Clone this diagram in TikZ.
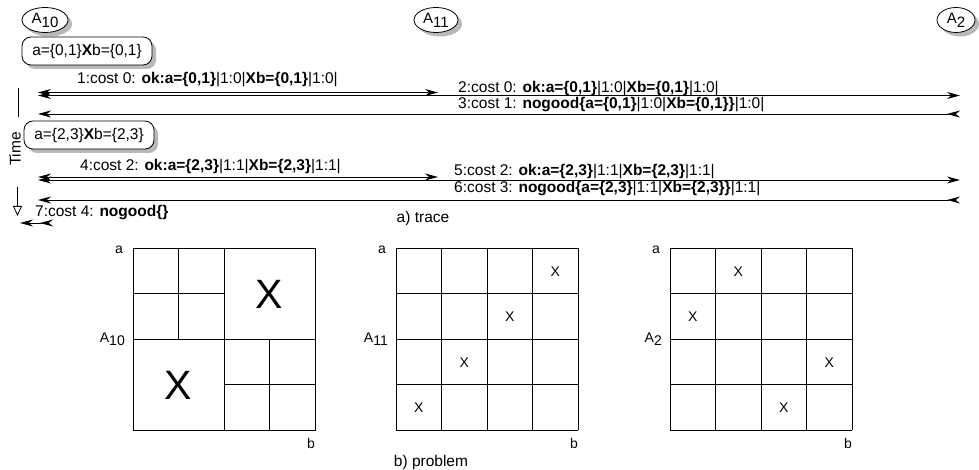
\documentclass[tikz,border=0pt]{standalone}
\usepackage{fontspec}
\setmainfont{Liberation Sans}
\usetikzlibrary{arrows.meta,shapes.geometric,shadows}
\newcommand{\lowr}[1]{\raisebox{-0.4ex}{#1}}
\newcommand{\prodx}{\textbf{X}}
\tikzset{
  >={Stealth[length=13pt,width=7pt]},
  txt/.style    = {font=\fontsize{15.5}{17}\selectfont,inner sep=0pt},
  lbl/.style    = {font=\fontsize{14}{16}\selectfont,inner sep=0pt},
  agent/.style  = {draw,ellipse,fill=white,line width=0.8pt,inner sep=0pt,minimum height=25pt,
                   text height=11pt,text depth=3pt,font=\fontsize{15}{17}\selectfont,
                   drop shadow={shadow xshift=4pt,shadow yshift=-4pt,fill=gray!55,opacity=1}},
  store/.style  = {draw,rounded corners=9pt,fill=white,line width=0.8pt,inner sep=0pt,
                   minimum width=130pt,minimum height=28pt,font=\fontsize{15.5}{17}\selectfont,
                   drop shadow={shadow xshift=4pt,shadow yshift=-4pt,fill=gray!55,opacity=1}},
  msg/.style    = {line width=0.9pt},
  timearr/.style= {line width=0.8pt,-{Triangle[open,length=10pt,width=9pt]}},
  cell/.style   = {line width=0.9pt},
  xmark/.style  = {font=\fontsize{14}{16}\selectfont,inner sep=0pt},
  bigmark/.style= {font=\fontsize{41}{45}\selectfont,inner sep=0pt}
}
% one 4x4 board: left edge, agent label, node prefix
\newcommand{\board}[3]{%
  \foreach \i in {0,...,4}{
    \draw[cell] (#1+\i*45.5,248) -- (#1+\i*45.5,430);
    \draw[cell] (#1,248+\i*45.5) -- (#1+182,248+\i*45.5);
  }
  \node[lbl] (#3-a) at (#1-14,250) {a};
  \node[lbl,anchor=east] (#3-ag) at (#1-8,339) {#2};
  \node[lbl] (#3-b) at (#1+178,443) {b};
}

\begin{document}
\begin{tikzpicture}[x=1pt,y=-1pt]
  \useasboundingbox (0,0) rectangle (979,470);

  % agents and lifelines
  \node[agent,minimum width=46pt] (A10) at (45,20)  {A\lowr{10}};
  \node[agent,minimum width=44pt] (A11) at (436,20) {A\lowr{11}};
  \node[agent,minimum width=38pt] (A2)  at (956,20) {A\lowr{2}};
  \coordinate (l10) at (38,0);
  \coordinate (l11) at (438,0);
  \coordinate (l2)  at (960,0);

  \node[store] (s1) at (87,51)  {a=\{0,1\}\prodx b=\{0,1\}};
  \node[store] (s2) at (89,135) {a=\{2,3\}\prodx b=\{2,3\}};

  % time axis
  \coordinate (t0) at (18,88);
  \coordinate (t1) at (18,117);
  \coordinate (t2) at (17.5,187);
  \coordinate (t3) at (17.5,216);
  \draw[msg] (t0) -- (t1);
  \node[txt,rotate=90] (time) at (15,149) {Time};
  \draw[timearr] (t2) -- (t3);

  % first round
  \draw[msg,<->] (l10 |- 0,92.5) -- (l11 |- 0,92.5);
  \draw[msg,<->] (l10 |- 0,95.5) -- (l2 |- 0,95.5);
  \draw[msg,>->] (l2 |- 0,114) -- (l10 |- 0,114);
  \node[txt,anchor=west] (m1) at (77,80)   {1:cost 0: \textbf{ok:a=\{0,1\}}|1:0|\textbf{Xb=\{0,1\}}|1:0|};
  \node[txt,anchor=west] (m2) at (458,89)  {2:cost 0: \textbf{ok:a=\{0,1\}}|1:0|\textbf{Xb=\{0,1\}}|1:0|};
  \node[txt,anchor=west] (m3) at (458,105) {3:cost 1: \textbf{nogood\{a=\{0,1\}}|1:0|\textbf{Xb=\{0,1\}\}}|1:0|};

  % second round
  \draw[msg,<->] (l10 |- 0,177) -- (l11 |- 0,177);
  \draw[msg,<->] (l10 |- 0,180) -- (l2 |- 0,180);
  \draw[msg,>->] (l2 |- 0,200) -- (l10 |- 0,200);
  \node[txt,anchor=west] (m4) at (80,167)  {4:cost 2: \textbf{ok:a=\{2,3\}}|1:1|\textbf{Xb=\{2,3\}}|1:1|};
  \node[txt,anchor=west] (m5) at (454,172) {5:cost 2: \textbf{ok:a=\{2,3\}}|1:1|\textbf{Xb=\{2,3\}}|1:1|};
  \node[txt,anchor=west] (m6) at (454,189) {6:cost 3: \textbf{nogood\{a=\{2,3\}}|1:1|\textbf{Xb=\{2,3\}\}}|1:1|};

  \coordinate (e0) at (53,223);
  \coordinate (e1) at (20,223);
  \draw[msg,>->] (e0) -- (e1);
  \node[txt,anchor=west] (m7) at (35,212.5) {7:cost 4: \textbf{nogood\{\}}};
  \node[txt] (trace) at (423,218) {a) trace};

  % b) problem
  \draw[cell] (133,248) rectangle (315,430);
  \draw[cell] (224,248) -- (224,430);
  \draw[cell] (133,339) -- (315,339);
  \draw[cell] (178.5,248) -- (178.5,339);
  \draw[cell] (133,293.5) -- (224,293.5);
  \draw[cell] (269.5,339) -- (269.5,430);
  \draw[cell] (224,384.5) -- (315,384.5);
  \node[lbl] (p10-a) at (119,250) {a};
  \node[lbl,anchor=east] (p10-ag) at (125,339) {A\lowr{10}};
  \node[lbl] (p10-b) at (311,443) {b};
  \node[bigmark] (p10-x1) at (269.5,294) {X};
  \node[bigmark] (p10-x2) at (178.5,385) {X};

  \board{396}{A\lowr{11}}{p11}
  \foreach \c/\r [count=\k] in {3/0,2/1,1/2,0/3}
    \node[xmark] (p11-x\k) at (396+\c*45.5+22.75,248+\r*45.5+23.5) {X};

  \board{670}{A\lowr{2}}{p2}
  \foreach \c/\r [count=\k] in {1/0,0/1,3/2,2/3}
    \node[xmark] (p2-x\k) at (670+\c*45.5+22.75,248+\r*45.5+23.5) {X};

  \node[txt] (problem) at (431,462) {b) problem};
\end{tikzpicture}
\end{document}
